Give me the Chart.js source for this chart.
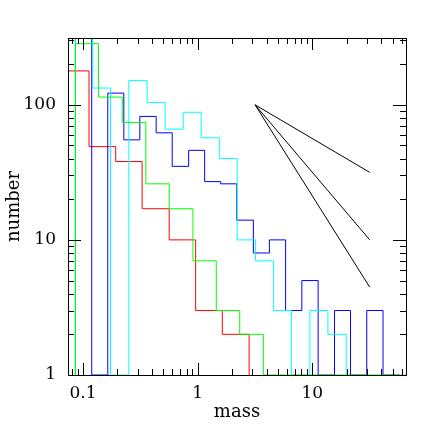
<!DOCTYPE html>
<html>
<head>
<meta charset="utf-8">
<script src="https://cdn.jsdelivr.net/npm/chart.js@4/dist/chart.umd.min.js"></script>
<style>
  html, body { margin: 0; padding: 0; background: #fff; }
  #wrap { width: 443px; height: 443px; }
</style>
</head>
<body>
<div id="wrap"><canvas id="massChart" width="443" height="443"></canvas></div>
<script>
// axis ranges
var xRange = [0.0741, 65.5];
var yRange = [1, 312];
var xTickLabels = [0.1, 1, 10];
var yTickLabels = [1, 10, 100];

// histogram bin edges (mass) and counts
var redEdges = [0.066, 0.113, 0.193, 0.328, 0.565, 0.961, 1.64, 2.81];
var redCounts = [178, 49, 38, 17, 10, 3, 2];

var greenEdges = [0.086, 0.1365, 0.22, 0.3535, 0.565, 0.91, 1.453, 2.327, 3.74, 6.0, 9.6, 15.4, 24.7, 39.6, 63.4, 101.6];
var greenCounts = [283, 114, 74, 26, 17, 7, 3, 2, 1, 1, 1, 1, 1, 1, 1];

var blueEdges = [0.086, 0.1193, 0.1647, 0.2272, 0.3133, 0.4349, 0.6002, 0.8344, 1.151, 1.588, 2.191,
                 3.059, 4.22, 5.845, 8.096, 11.23, 15.6, 21.51, 29.8, 41.3, 57.3];
var blueCounts = [330, 1, 122, 55, 82, 62, 35, 46, 27, 26, 14, 8, 10, 3, 5, 1, 3, 1, 3, 1];

var cyanEdges = [0.086, 0.1211, 0.1739, 0.2512, 0.3629, 0.5212, 0.7485, 1.075, 1.556, 2.21,
                 3.198, 4.592, 6.57, 9.51, 13.66, 19.73];
var cyanCounts = [330, 133, 1, 151, 104, 66, 88, 57, 40, 10, 7, 3, 1, 3, 2];

// reference power-law lines
var slopeX = [3.162, 31.62];
var slopeHalf = [100, 31.6];
var slopeOne = [100, 10];
var slopeSalpeter = [100, 4.47];

function histPoints(edges, counts) {
    var pts = [{ x: edges[0], y: yRange[0] }];
    for (var i = 0; i < counts.length; i++) {
        pts.push({ x: edges[i], y: counts[i] });
    }
    pts.push({ x: edges[edges.length - 1], y: yRange[0] });
    return pts;
}

function linePoints(ys) {
    return slopeX.map(function (x, i) { return { x: x, y: ys[i] }; });
}

function histSet(edges, counts, color, order) {
    return {
        data: histPoints(edges, counts),
        borderColor: color,
        borderWidth: 1,
        stepped: true,
        pointRadius: 0,
        fill: false,
        order: order
    };
}

function plainSet(ys) {
    return {
        data: linePoints(ys),
        borderColor: '#000',
        borderWidth: 1,
        pointRadius: 0,
        fill: false,
        order: 0
    };
}

// inward tick marks on all four sides + frame
var frameTicks = {
    id: 'frameTicks',
    afterDatasetsDraw: function (chart) {
        var ctx = chart.ctx;
        var a = chart.chartArea;
        var xs = chart.scales.x, ys = chart.scales.y;
        ctx.save();
        ctx.strokeStyle = '#000';
        ctx.lineWidth = 1;
        ctx.beginPath();
        var d, m, v, p, len;
        for (d = -2; d <= 1; d++) {
            for (m = 1; m <= 9; m++) {
                v = m * Math.pow(10, d);
                if (v < xRange[0] || v > xRange[1]) continue;
                p = Math.round(xs.getPixelForValue(v)) + 0.5;
                len = m === 1 ? 12 : 6;
                ctx.moveTo(p, a.bottom); ctx.lineTo(p, a.bottom - len);
                ctx.moveTo(p, a.top); ctx.lineTo(p, a.top + len);
            }
        }
        for (d = 0; d <= 2; d++) {
            for (m = 1; m <= 9; m++) {
                v = m * Math.pow(10, d);
                if (v < yRange[0] || v > yRange[1]) continue;
                p = Math.round(ys.getPixelForValue(v)) + 0.5;
                len = m === 1 ? 13 : 6;
                ctx.moveTo(a.left, p); ctx.lineTo(a.left + len, p);
                ctx.moveTo(a.right, p); ctx.lineTo(a.right - len, p);
            }
        }
        ctx.stroke();
        ctx.strokeRect(Math.round(a.left) + 0.5, Math.round(a.top) + 0.5,
            Math.round(a.right - a.left), Math.round(a.bottom - a.top));
        ctx.restore();
    }
};

var font = { family: '"DejaVu Serif", serif', size: 17 };
var titleFont = { family: '"DejaVu Serif", serif', size: 18 };

new Chart(document.getElementById('massChart'), {
    type: 'line',
    data: {
        datasets: [
            plainSet(slopeHalf),
            plainSet(slopeOne),
            plainSet(slopeSalpeter),
            histSet(greenEdges, greenCounts, 'rgb(0,255,0)', 1),
            histSet(cyanEdges, cyanCounts, 'rgb(0,255,255)', 2),
            histSet(blueEdges, blueCounts, 'rgb(0,0,255)', 3),
            histSet(redEdges, redCounts, 'rgb(255,0,0)', 4)
        ]
    },
    options: {
        responsive: false,
        animation: false,
        events: [],
        layout: { padding: { top: 38, right: 37, left: 0, bottom: 0 } },
        plugins: { legend: { display: false }, tooltip: { enabled: false } },
        scales: {
            x: {
                type: 'logarithmic',
                min: xRange[0],
                max: xRange[1],
                grid: { display: false, drawTicks: false },
                border: { display: false },
                afterBuildTicks: function (s) {
                    s.ticks = xTickLabels.map(function (v) { return { value: v }; });
                },
                afterFit: function (s) { s.height = 68; },
                ticks: {
                    autoSkip: false, maxRotation: 0, padding: 8,
                    color: '#000', font: font,
                    callback: function (v) { return String(v); }
                },
                title: {
                    display: true, text: 'mass', color: '#000', font: titleFont,
                    padding: { top: 0, bottom: 20 }
                }
            },
            y: {
                type: 'logarithmic',
                min: yRange[0],
                max: yRange[1],
                grid: { display: false, drawTicks: false },
                border: { display: false },
                afterBuildTicks: function (s) {
                    s.ticks = yTickLabels.map(function (v) { return { value: v }; });
                },
                afterFit: function (s) { s.width = 68; },
                ticks: {
                    autoSkip: false, padding: 12,
                    color: '#000', font: font,
                    callback: function (v) { return String(v); }
                },
                title: {
                    display: true, text: 'number', color: '#000', font: titleFont,
                    padding: { top: 4, bottom: 0 }
                }
            }
        }
    },
    plugins: [frameTicks]
});
</script>
</body>
</html>
